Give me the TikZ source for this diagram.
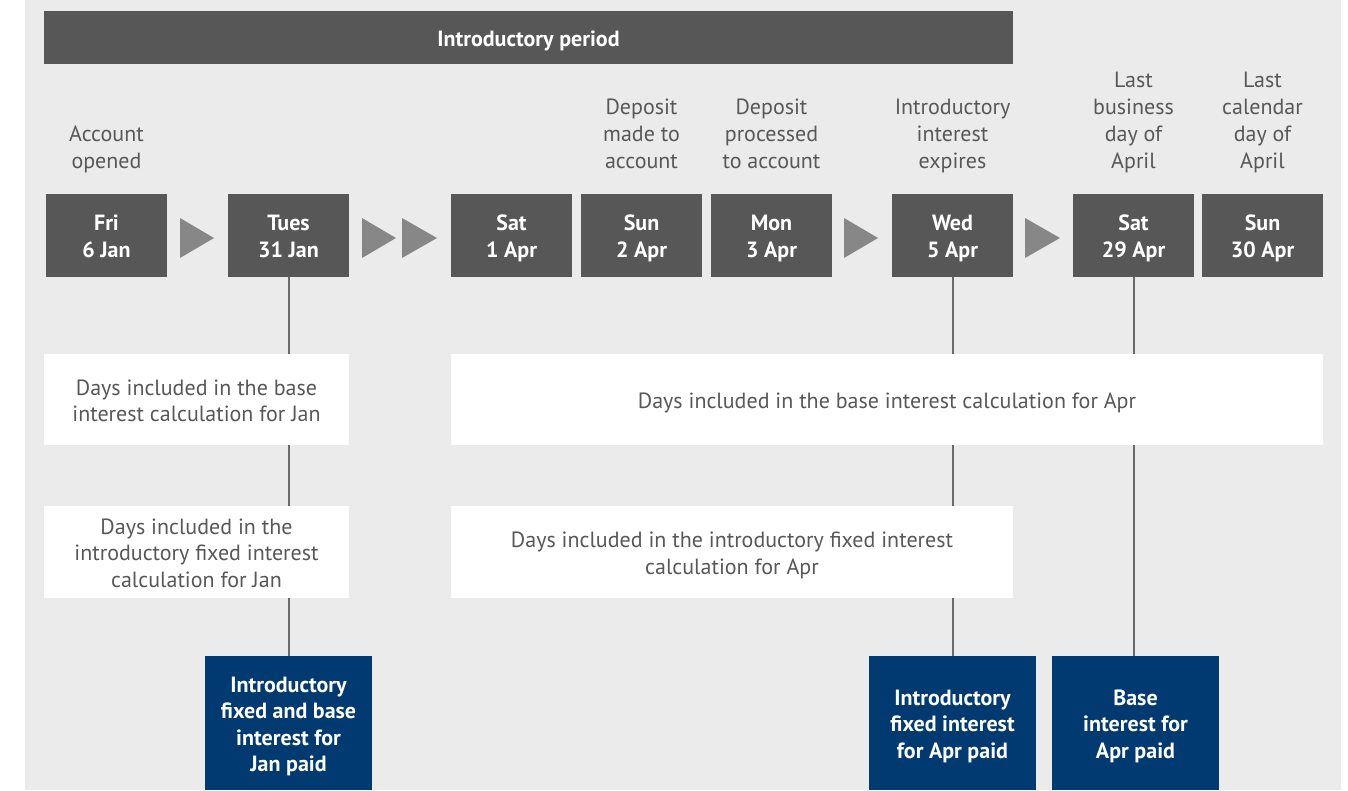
\documentclass[tikz,border=0pt]{standalone}
\usepackage{fontspec}
\setmainfont{PT Sans}
\usepackage{tikz}
\usetikzlibrary{positioning}
\definecolor{bggray}{HTML}{EBEBEB}
\definecolor{daygray}{HTML}{575757}
\definecolor{tipgray}{HTML}{878787}
\definecolor{navy}{HTML}{003A70}
\definecolor{txtgray}{HTML}{585858}
\definecolor{linegray}{HTML}{6A6A6A}
\newcommand\topgap{\rule{0pt}{22.5pt}}
\tikzset{day/.style = {fill=daygray,text=white,font=\fontsize{22}{27}\selectfont\bfseries,align=center,inner sep=0pt,text depth=5pt,minimum width=121pt,minimum height=83pt}}
\tikzset{event/.style = {text=txtgray,font=\fontsize{22}{27}\selectfont,align=center,inner sep=0pt,anchor=south}}
\tikzset{span/.style = {fill=white,text=txtgray,font=\fontsize{22}{26.5}\selectfont,align=center,inner sep=0pt,text depth=5pt,minimum height=91pt}}
\tikzset{paid/.style = {fill=navy,text=white,font=\fontsize{22}{26.5}\selectfont\bfseries,align=center,inner sep=0pt,text depth=5pt,minimum width=167pt,minimum height=134pt}}
\tikzset{tip/.style = {fill=tipgray}}
\tikzset{conn/.style = {draw=linegray,line width=2pt}}

\begin{document}
\begin{tikzpicture}[x=1pt,y=-1pt]
                \useasboundingbox (0,0) rectangle (1348,790);
                \fill[white] (0,0) rectangle (1348,790);
                \fill[bggray] (25,0) rectangle (1341,790);

                \node[fill=daygray,text=white,font=\fontsize{22}{27}\selectfont\bfseries,inner sep=0pt,minimum width=969pt,minimum height=53pt] (intro) at (528.5,37.5) {\topgap Introductory period};

                \node[day] (fri) at (106.5,235.5) {\topgap Fri\\6 Jan};
                \node[day] (tues) at (288.5,235.5) {\topgap Tues\\31 Jan};
                \node[day] (sat) at (511.5,235.5) {\topgap Sat\\1 Apr};
                \node[day] (sun) at (641.5,235.5) {\topgap Sun\\2 Apr};
                \node[day] (mon) at (771.5,235.5) {\topgap Mon\\3 Apr};
                \node[day] (wed) at (952.5,235.5) {\topgap Wed\\5 Apr};
                \node[day] (lastsat) at (1133.5,235.5) {\topgap Sat\\29 Apr};
                \node[day] (lastsun) at (1262.5,235.5) {\topgap Sun\\30 Apr};

                \node[event] (opened) at (106.5,177) {Account\\opened\strut};
                \node[event] (made) at (641.5,177) {Deposit\\made to\\account\strut};
                \node[event] (processed) at (771.5,177) {Deposit\\processed\\to account\strut};
                \node[event] (expires) at (952.5,177) {Introductory\\interest\\expires\strut};
                \node[event] (business) at (1133.5,177) {Last\\business\\day of\\April\strut};
                \node[event] (calendar) at (1262.5,177) {Last\\calendar\\day of\\April\strut};

                \fill[tip] (180,218) -- (214,238) -- (180,258) -- cycle;
                \fill[tip] (362,218) -- (396,238) -- (362,258) -- cycle;
                \fill[tip] (402,218) -- (437,238) -- (402,258) -- cycle;
                \fill[tip] (844,218) -- (878,238) -- (844,258) -- cycle;
                \fill[tip] (1025,218) -- (1060,238) -- (1025,258) -- cycle;

                \node[paid] (janpaid) at (288.5,723) {\topgap Introductory\\fixed and base\\interest for\\Jan paid};
                \node[paid] (fixpaid) at (952.5,723) {\topgap Introductory\\fixed interest\\for Apr paid};
                \node[paid] (basepaid) at (1135.5,723) {\topgap Base\\interest for\\Apr paid};

                \draw[conn] (tues.south) -- (janpaid.north);
                \draw[conn] (wed.south) -- (fixpaid.north);
                \draw[conn] (lastsat.south) -- (lastsat.south |- basepaid.north);

                \node[span,minimum width=305pt] (janbase) at (196.5,399.5) {\topgap Days included in the base\\interest calculation for Jan};
                \node[span,minimum width=872pt] (aprbase) at (887,399.5) {\topgap Days included in the base interest calculation for Apr};
                \node[span,minimum width=305pt,minimum height=92pt] (janfix) at (196.5,552) {\topgap Days included in the\\introductory fixed interest\\calculation for Jan};
                \node[span,minimum width=562pt,minimum height=92pt] (aprfix) at (732,552) {\topgap Days included in the introductory fixed interest\\calculation for Apr};
            \end{tikzpicture}
\end{document}
